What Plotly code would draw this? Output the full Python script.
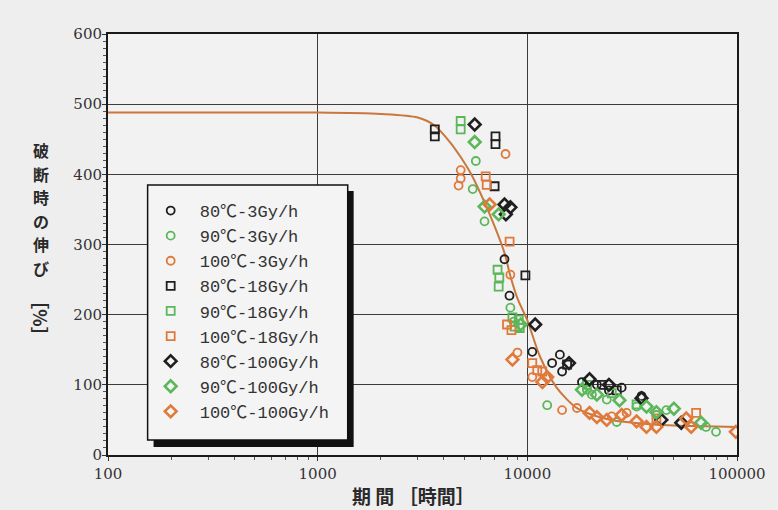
import plotly.graph_objects as go

# Fitted master curve: elongation at break vs. ageing time
fit_hours = [100, 1000, 2000, 3000, 3600, 4300, 4800, 5400, 6250, 7000, 7800, 8300,
             9000, 10000, 11500, 13800, 17000, 20000, 25000, 35000, 50000, 70000, 100000]
fit_elong = [488, 488, 486, 481, 470, 445, 425, 400, 360, 325, 287, 255,
             222, 192, 140, 96, 68, 58, 50, 45, 42, 41, 40]

# 80°C - 3 Gy/h
h_80_3 = [7780, 8220, 10560, 13130, 14300, 14650, 18220, 21460, 24500, 28180, 35050]
e_80_3 = [279, 227, 147, 131, 143, 119, 104, 100, 92, 96, 84]

# 90°C - 3 Gy/h
h_90_3 = [5680, 5490, 6250, 8300, 8600, 12440, 19240, 20320, 23930, 26690, 33190, 41280, 46030, 71200, 79400]
e_90_3 = [419, 379, 333, 210, 190, 71, 93, 86, 79, 47, 69, 57, 64, 40, 33]

# 100°C - 3 Gy/h
h_100_3 = [4810, 4810, 4700, 7870, 8300, 8970, 10560, 14650, 17250, 25270, 29760]
e_100_3 = [406, 394, 384, 429, 257, 146, 111, 64, 67, 55, 60]

# 80°C - 18 Gy/h
h_80_18 = [3620, 3620, 7050, 7050, 6980, 9790, 15470, 22660, 26690]
e_80_18 = [464, 454, 454, 443, 383, 256, 129, 100, 92]

# 90°C - 18 Gy/h
h_90_18 = [4810, 4810, 7210, 7350, 7300, 8490, 9100, 8700, 9200, 19240, 25270, 33190]
e_90_18 = [476, 464, 264, 253, 240, 196, 193, 183, 181, 100, 88, 72]

# 100°C - 18 Gy/h
h_100_18 = [6330, 6400, 8230, 8000, 8400, 10560, 11150, 11780, 41280, 63840]
e_100_18 = [397, 385, 304, 186, 178, 131, 121, 119, 52, 60]

# 80°C - 100 Gy/h
h_80_100 = [5610, 7780, 8300, 7900, 10900, 15800, 19800, 24500, 35050, 43590, 54210]
e_80_100 = [471, 357, 353, 343, 186, 131, 108, 100, 81, 50, 46]

# 90°C - 100 Gy/h
h_90_100 = [5610, 6250, 7300, 9300, 18220, 21460, 27500, 37010, 41280, 50000, 67420]
e_90_100 = [446, 354, 343, 186, 93, 86, 78, 69, 61, 66, 46]

# 100°C - 100 Gy/h
h_100_100 = [6610, 8490, 11800, 12440, 19800, 21460, 23930, 28180, 33190, 37010, 41280, 57250, 60460, 98740]
e_100_100 = [357, 136, 104, 111, 60, 54, 50, 57, 48, 40, 40, 52, 40, 33]

x_ticks = [100, 1000, 10000, 100000]
x_tick_text = ["100", "1000", "10000", "100000"]

# vertical axis title, written top to bottom
y_title_chars = ["破", "断", "時", "の", "伸", "び"]
y_title_unit = "［%］"

BLACK = "#1f1f1f"
GREEN = "#5cb65a"
ORANGE = "#e0793a"
CURVE = "#c9773d"

# plot-area geometry (pixels) used to place paper-referenced decorations
L, R, T, B = 108, 743, 34, 455
W, H = R - L, B - T


def px(xp):
    return (xp - L) / W


def py(yp):
    return (B - yp) / H


fig = go.Figure()

fig.add_trace(go.Scatter(x=fit_hours, y=fit_elong, mode="lines",
                         line=dict(color=CURVE, width=2, shape="spline", smoothing=0.8),
                         showlegend=False, hoverinfo="skip"))

series = [
    ("80℃-3Gy/h", h_80_3, e_80_3, BLACK, "circle-open", 1.8),
    ("90℃-3Gy/h", h_90_3, e_90_3, GREEN, "circle-open", 1.8),
    ("100℃-3Gy/h", h_100_3, e_100_3, ORANGE, "circle-open", 1.8),
    ("80℃-18Gy/h", h_80_18, e_80_18, BLACK, "square-open", 1.8),
    ("90℃-18Gy/h", h_90_18, e_90_18, GREEN, "square-open", 1.8),
    ("100℃-18Gy/h", h_100_18, e_100_18, ORANGE, "square-open", 1.8),
    ("80℃-100Gy/h", h_80_100, e_80_100, BLACK, "diamond-open", 2.6),
    ("90℃-100Gy/h", h_90_100, e_90_100, GREEN, "diamond-open", 2.6),
    ("100℃-100Gy/h", h_100_100, e_100_100, ORANGE, "diamond-open", 2.6),
]

for i, (name, hx, ey, col, sym, lw) in enumerate(series):
    fig.add_trace(go.Scatter(
        x=hx, y=ey, mode="markers", name=name, legendgroup=f"g{i}",
        marker=dict(symbol=sym, size=8 if sym != "diamond-open" else 9,
                    color=col, line=dict(color=col, width=lw)),
    ))

# legend frame with a solid drop shadow
fig.add_shape(type="rect", xref="paper", yref="paper",
              x0=px(154), x1=px(356), y0=py(447), y1=py(191),
              fillcolor="#111111", line=dict(width=0), layer="above")
fig.add_shape(type="rect", xref="paper", yref="paper",
              x0=px(148), x1=px(350), y0=py(440), y1=py(185),
              fillcolor="#f4f4f4", line=dict(color="#111111", width=1.5), layer="above")

title_font = dict(family="Noto Sans CJK JP", size=16, color="#2a2a2a")

for k, ch in enumerate(y_title_chars):
    fig.add_annotation(text=f"<b>{ch}</b>", xref="paper", yref="paper",
                       x=px(40), y=py(150 + 23.6 * k), showarrow=False,
                       xanchor="center", yanchor="middle", font=title_font)
fig.add_annotation(text=f"<b>{y_title_unit}</b>", xref="paper", yref="paper", textangle=90,
                   x=px(40), y=py(318), showarrow=False,
                   xanchor="center", yanchor="middle",
                   font=dict(family="Noto Sans CJK JP", size=18, color="#2a2a2a"))
fig.add_annotation(text="<b>期 間 ［時間］</b>", xref="paper", yref="paper",
                   x=px(416), y=py(495), showarrow=False,
                   xanchor="center", yanchor="middle",
                   font=dict(family="Noto Sans CJK JP", size=19, color="#2a2a2a"))

tick_font = dict(family="DejaVu Serif", size=15, color="#333333")

fig.update_xaxes(type="log", range=[2, 5], tickvals=x_ticks, ticktext=x_tick_text,
                 showgrid=True, gridcolor="#3c3c3c", gridwidth=1.3,
                 showline=True, linecolor="#1a1a1a", linewidth=2, mirror=True,
                 ticks="outside", ticklen=4, tickcolor="#333", tickfont=tick_font,
                 minor=dict(ticks="outside", ticklen=3, tickcolor="#555",
                            tickvals=[v * m for v in [100, 1000, 10000] for m in range(2, 10)],
                            showgrid=False),
                 zeroline=False)
fig.update_yaxes(range=[0, 600], dtick=100, showgrid=True, gridcolor="#3c3c3c", gridwidth=1.3,
                 showline=True, linecolor="#1a1a1a", linewidth=2, mirror=True,
                 ticks="outside", ticklen=4, tickcolor="#333", tickfont=tick_font,
                 ticklabelstandoff=-3,
                 minor=dict(ticks="outside", ticklen=3, tickcolor="#555", dtick=10, showgrid=False),
                 zeroline=False)

fig.update_layout(
    width=778, height=510,
    margin=dict(l=L, r=778 - R, t=T, b=510 - B),
    paper_bgcolor="#eeeeee", plot_bgcolor="#f2f2f2",
    showlegend=True,
    legend=dict(x=px(142), y=py(193), xanchor="left", yanchor="top",
                bgcolor="rgba(0,0,0,0)", borderwidth=0,
                font=dict(family="Liberation Mono, Noto Sans CJK JP", size=17, color="#333333"),
                tracegroupgap=0, itemwidth=48),
)

fig.write_html("out.html")
